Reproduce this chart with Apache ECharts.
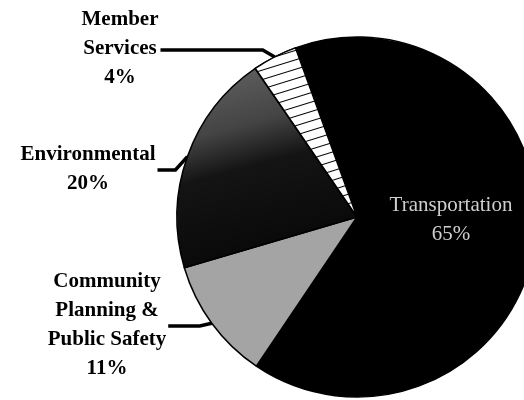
<!DOCTYPE html>
<html>
<head>
<meta charset="utf-8">
<script src="https://cdn.jsdelivr.net/npm/echarts@6/dist/echarts.min.js"></script>
<style>
  html, body { margin: 0; padding: 0; background: #fff; }
  #chart { width: 524px; height: 400px; }
</style>
</head>
<body>
<div id="chart"></div>
<script>
// slice names (clockwise from the top) and their shares
var categories = ['Transportation', 'Community\nPlanning &\nPublic Safety', 'Environmental', 'Member\nServices'];
var values = [65, 11, 20, 4];

// where each label block sits (centre of the text block)
var labelPos = [
	{ x: 451, y: 220 },
	{ x: 107, y: 325 },
	{ x: 88, y: 169 },
	{ x: 120, y: 49 }
];

var fills = [
	'#000000',
	'#a4a4a4',
	{
		type: 'linear', x: 0, y: 0, x2: 0.3, y2: 1,
		colorStops: [
			{ offset: 0, color: '#666666' },
			{ offset: 0.35, color: '#444444' },
			{ offset: 0.55, color: '#141414' },
			{ offset: 1, color: '#080808' }
		]
	},
	'#ffffff'
];

var pieData = [];
for (var i = 0; i < categories.length; i++) {
	var item = {
		name: categories[i],
		value: values[i],
		itemStyle: { color: fills[i] }
	};
	if (i == 0) {
		item.label = { color: '#cfcfcf', fontWeight: 'normal' };
		item.labelLine = { show: false };
	}
	if (i == 3) {
		item.itemStyle.decal = {
			symbol: 'rect',
			color: '#000',
			backgroundColor: '#fff',
			dashArrayX: [1, 0],
			dashArrayY: [1, 8],
			rotation: -0.3
		};
	}
	pieData.push(item);
}

var myChart = echarts.init(document.getElementById('chart'));
var option = {
	animation: false,
	backgroundColor: '#fff',
	series: [{
		type: 'pie',
		center: [357, 217],
		radius: 180,
		startAngle: 110,
		clockwise: true,
		avoidLabelOverlap: false,
		itemStyle: { borderColor: '#000', borderWidth: 1.5 },
		label: {
			show: true,
			position: 'outside',
			formatter: '{b}\n{d}%',
			fontFamily: 'Liberation Serif',
			fontWeight: 'bold',
			fontSize: 21,
			lineHeight: 29,
			color: '#000',
			align: 'center'
		},
		labelLine: {
			show: true,
			lineStyle: { color: '#000', width: 3.5 }
		},
		labelLayout: function (params) {
			var p = labelPos[params.dataIndex];
			var res = { x: p.x, y: p.y, align: 'center', verticalAlign: 'middle' };
			if (params.dataIndex > 0 && params.labelLinePoints) {
				var p0 = params.labelLinePoints[0];
				var right = p.x + params.labelRect.width / 2 + 2;
				res.labelLinePoints = [
					[p0[0], p0[1]],
					[p0[0] - 12, p.y + 1],
					[right, p.y + 1]
				];
			}
			return res;
		},
		data: pieData
	}]
};
myChart.setOption(option);
</script>
</body>
</html>
